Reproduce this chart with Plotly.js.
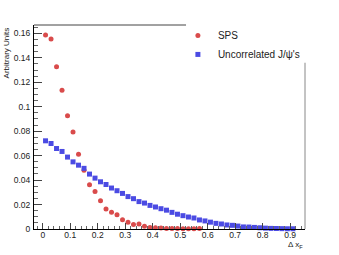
<!DOCTYPE html>
<html>
<head>
<meta charset="utf-8">
<script src="https://cdn.plot.ly/plotly-3.0.1.min.js"></script>
<style>html,body{margin:0;padding:0;background:#fff;}#chart{width:339px;height:255px;}</style>
</head>
<body>
<div id="chart"></div>
<script>
const xSPS = [0.01,0.03,0.05,0.07,0.09,0.11,0.13,0.15,0.17,0.19,0.21,0.23,0.25,0.27,0.29,0.31,0.33,0.35,0.37,0.39,0.41,0.43,0.45,0.47,0.49,0.51,0.53,0.55,0.57];
const ySPS = [0.1586,0.1553,0.1327,0.1135,0.0925,0.0794,0.0612,0.048,0.0362,0.0307,0.0231,0.0163,0.0136,0.0117,0.0076,0.0055,0.0037,0.004,0.0023,0.0012,0.0011,0.0008,0.0005,0.0005,0.0005,0.0003,0.0003,0.0003,0.0004];
const xUnc = [0.01,0.03,0.05,0.07,0.09,0.11,0.13,0.15,0.17,0.19,0.21,0.23,0.25,0.27,0.29,0.31,0.33,0.35,0.37,0.39,0.41,0.43,0.45,0.47,0.49,0.51,0.53,0.55,0.57,0.59,0.61,0.63,0.65,0.67,0.69,0.71,0.73,0.75,0.77,0.79,0.81,0.83,0.85,0.87,0.89,0.91];
const yUnc = [0.0721,0.0699,0.0658,0.0634,0.0588,0.0549,0.0522,0.0496,0.0449,0.0416,0.0386,0.0364,0.0335,0.0313,0.0291,0.0265,0.0248,0.0224,0.0212,0.0193,0.018,0.0166,0.0154,0.0136,0.0121,0.0109,0.0098,0.009,0.0074,0.0066,0.0056,0.0046,0.0041,0.0033,0.003,0.0024,0.0017,0.0016,0.0013,0.001,0.0007,0.0005,0.0004,0.0003,0.0002,0.0002];
const xTickVals = [0,0.1,0.2,0.3,0.4,0.5,0.6,0.7,0.8,0.9];
const xTickText = ["0","0.1","0.2","0.3","0.4","0.5","0.6","0.7","0.8","0.9"];
const yTickVals = [0,0.02,0.04,0.06,0.08,0.1,0.12,0.14,0.16];
const yTickText = ["0","0.02","0.04","0.06","0.08","0.1","0.12","0.14","0.16"];
const seriesNames = ["SPS","Uncorrelated J/\u03c8's"];

const font = "Liberation Sans, Arial, sans-serif";
const traces = [
  {x:xSPS, y:ySPS, type:'scatter', mode:'markers', name:seriesNames[0], cliponaxis:false,
   marker:{symbol:'circle', size:5, color:'#d94b4b'}},
  {x:xUnc, y:yUnc, type:'scatter', mode:'markers', name:seriesNames[1], cliponaxis:false,
   marker:{symbol:'square', size:5, color:'#4b4be3'}}
];
const layout = {
  width:339, height:255,
  margin:{l:34, r:34, t:25, b:26, pad:0},
  paper_bgcolor:'#fff', plot_bgcolor:'#fff',
  font:{family:font, size:8.5, color:'#222'},
  showlegend:true,
  legend:{x:0.531, y:1.02, xanchor:'left', yanchor:'top', bgcolor:'rgba(0,0,0,0)', borderwidth:0,
          font:{family:font, size:10, color:'#222'}},
  xaxis:{range:[-0.032,0.954], showgrid:false, zeroline:false, showline:true, linecolor:'#000', linewidth:1,
         ticks:'inside', ticklen:6, tickcolor:'#444', tickvals:xTickVals, ticktext:xTickText,
         minor:{ticks:'inside', ticklen:3, dtick:0.02, tick0:0, tickcolor:'#666', showgrid:false},
         tickfont:{family:font, size:8.5, color:'#222'}, ticklabelstandoff:-2},
  yaxis:{range:[0,0.1668], showgrid:false, zeroline:false, showline:true, linecolor:'#000', linewidth:1,
         ticks:'inside', ticklen:8, tickcolor:'#444', tickvals:yTickVals, ticktext:yTickText,
         minor:{ticks:'inside', ticklen:4, dtick:0.005, tick0:0, tickcolor:'#666', showgrid:false},
         tickfont:{family:font, size:8.5, color:'#222'}, ticklabelstandoff:1},
  shapes:[
    {type:'line', xref:'paper', yref:'paper', x0:0, x1:0.561, y0:1, y1:1, line:{color:'#444', width:1}},
    {type:'line', xref:'paper', yref:'paper', x0:1, x1:1, y0:0, y1:0.815, line:{color:'#888', width:1}}
  ],
  annotations:[
    {text:'Arbitrary Units', xref:'paper', yref:'paper', x:-0.1, y:1, xanchor:'center', yanchor:'top',
     textangle:-90, showarrow:false, font:{family:font, size:8, color:'#222'}},
    {text:'\u0394 x<sub>F</sub>', xref:'paper', yref:'paper', x:1, y:-0.045, xanchor:'right', yanchor:'top',
     showarrow:false, font:{family:font, size:8, color:'#222'}}
  ]
};
Plotly.newPlot('chart', traces, layout, {displayModeBar:false, staticPlot:true});
</script>
</body>
</html>
